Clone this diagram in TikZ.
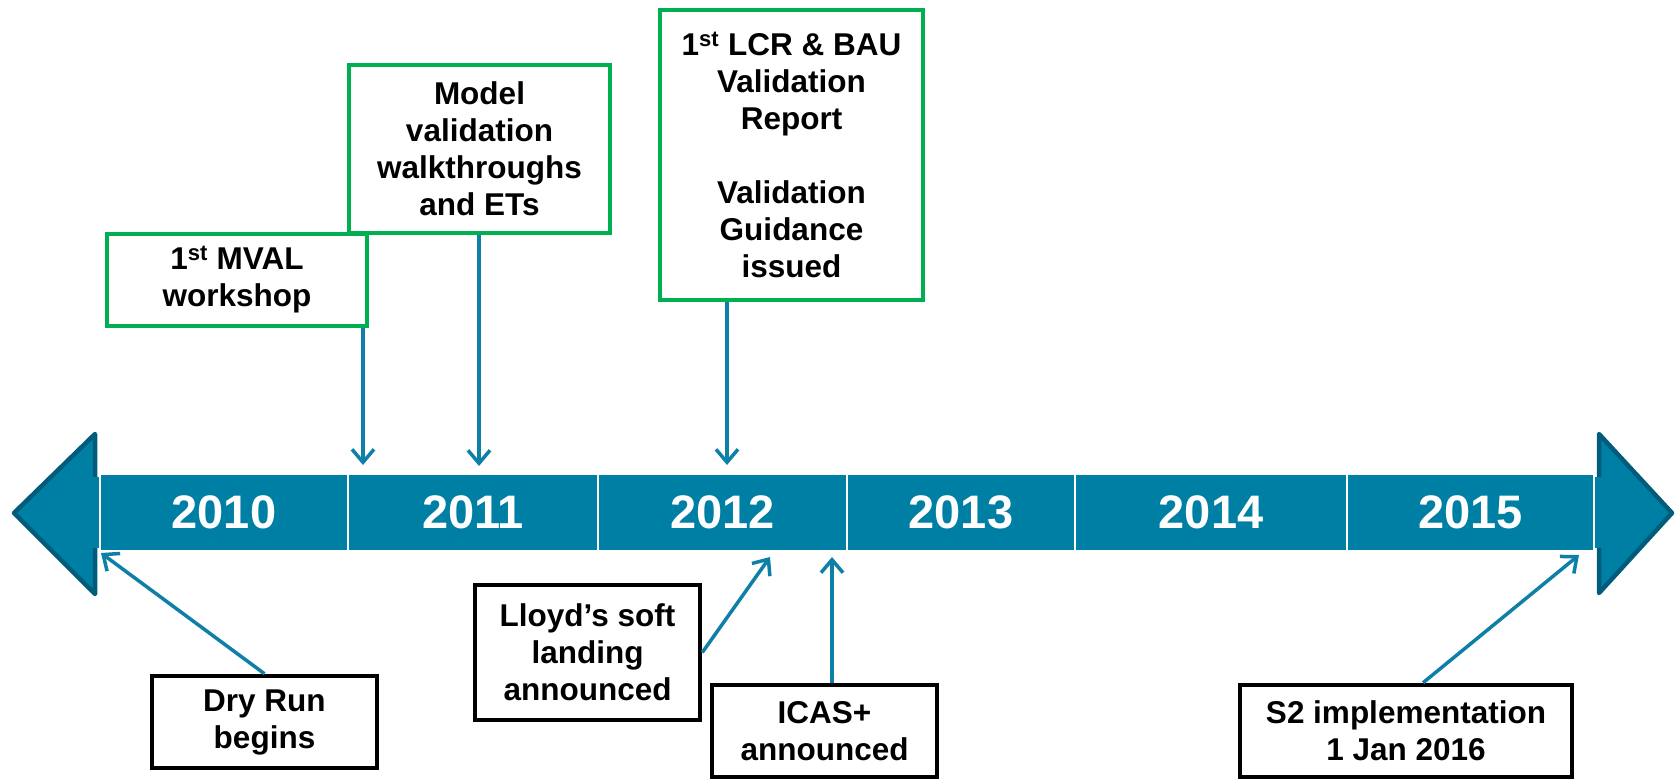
\documentclass[tikz,border=0pt]{standalone}
\usepackage{fontspec}
\setmainfont{Liberation Sans}
\usetikzlibrary{arrows.meta}
\definecolor{barteal}{HTML}{007FA5}
\definecolor{arrteal}{HTML}{0E80A7}
\definecolor{darkteal}{HTML}{005C7A}
\definecolor{boxgreen}{HTML}{00B050}
\tikzset{
  yearseg/.style={fill=barteal, draw=white, line width=2.5pt, minimum height=77pt, inner sep=0pt,
    text=white, font=\fontsize{47}{50}\selectfont\bfseries},
  greenbox/.style={draw=boxgreen, line width=4pt, fill=white, align=center, inner sep=0pt,
    font=\fontsize{31.5}{37}\selectfont\bfseries},
  blackbox/.style={draw=black, line width=4.5pt, fill=white, align=center, inner sep=0pt,
    font=\fontsize{31.5}{37}\selectfont\bfseries},
  arr/.style={draw=arrteal, line width=3.5pt, -{Straight Barb[length=13pt,width=22pt,line width=3.5pt]}},
  endtri/.style={fill=barteal, draw=darkteal, line width=4.5pt, line join=round}
}
\begin{document}
\begin{tikzpicture}[x=1pt,y=-1pt]
\useasboundingbox (0,0) rectangle (1675,782);
% end triangles
\draw[endtri] (14,513) -- (95,434) -- (95,594) -- cycle;
\draw[endtri] (1599,434) -- (1672,513) -- (1599,593) -- cycle;
\fill[barteal] (89,477) rectangle (101,548);
\fill[barteal] (1593,477) rectangle (1605,548);
% year segments
\node[yearseg, minimum width=248pt] (y10) at (224,512.5) {2010};
\node[yearseg, minimum width=250pt] (y11) at (473,512.5) {2011};
\node[yearseg, minimum width=249pt] (y12) at (722.5,512.5) {2012};
\node[yearseg, minimum width=228pt] (y13) at (961,512.5) {2013};
\node[yearseg, minimum width=272pt] (y14) at (1211,512.5) {2014};
\node[yearseg, minimum width=247pt] (y15) at (1470.5,512.5) {2015};
% upper boxes
\node[greenbox, minimum width=260pt, minimum height=92pt] (mval) at (237,280)
  {1\textsuperscript{st} MVAL\\workshop};
\node[greenbox, minimum width=261pt, minimum height=168pt] (model) at (479.5,149)
  {Model\\validation\\walkthroughs\\and ETs};
\node[greenbox, minimum width=263pt, minimum height=290pt] (lcr) at (791.5,155)
  {1\textsuperscript{st} LCR \& BAU\\Validation\\Report\\[37pt]Validation\\Guidance\\issued};
% lower boxes
\node[blackbox, minimum width=225pt, minimum height=92pt] (dry) at (264.5,722)
  {Dry Run\\begins};
\node[blackbox, minimum width=225pt, minimum height=135pt] (lloyd) at (587.5,652.5)
  {Lloyd’s soft\\landing\\announced};
\node[blackbox, minimum width=225pt, minimum height=92pt] (icas) at (824.5,731)
  {ICAS+\\announced};
\node[blackbox, minimum width=332pt, minimum height=92pt] (s2) at (1406,731)
  {S2 implementation\\1 Jan 2016};
% arrow targets
\coordinate (t1) at (363,465);
\coordinate (t2) at (479,466);
\coordinate (t3) at (727,465);
\coordinate (t4) at (101,553);
\coordinate (t5) at (770,557);
\coordinate (t6) at (832,557);
\coordinate (t7) at (1579,555);
\coordinate (s2x) at (1423,0);
% connectors
\draw[arr] (mval.south -| t1) -- (t1);
\draw[arr] (model.south -| t2) -- (t2);
\draw[arr] (lcr.south -| t3) -- (t3);
\draw[arr] (dry.north) -- (t4);
\draw[arr] (lloyd.east) -- (t5);
\draw[arr] (icas.north -| t6) -- (t6);
\draw[arr] (s2.north -| s2x) -- (t7);
\end{tikzpicture}
\end{document}
